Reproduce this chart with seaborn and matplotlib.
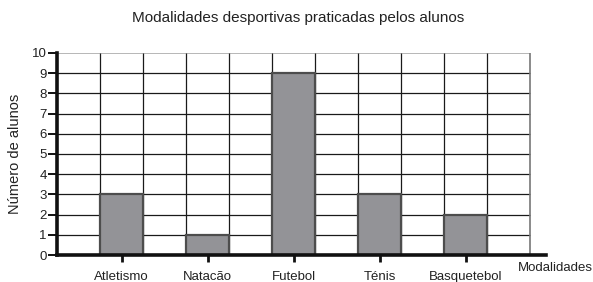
import pandas as pd
import seaborn as sns
import matplotlib.pyplot as plt

# Data
modalidades = ['Atletismo', 'Natacão', 'Futebol', 'Ténis', 'Basquetebol']
alunos = [3, 1, 9, 3, 2]

sns.set_theme(style="white")
plt.rcParams['font.family'] = ['Liberation Sans', 'DejaVu Sans']

df = pd.DataFrame({'Modalidade': modalidades, 'Alunos': alunos})

fig = plt.figure(figsize=(5.93, 2.82), dpi=100)
ax = fig.add_axes([57 / 593, 27 / 282, (546 - 57) / 593, (255 - 53) / 282])

# grid cells behind the bars
x_left, x_right = -0.75, 4.75
ax.hlines(range(1, 10), x_left, x_right, color='#1a1a1a', lw=0.9, zorder=0)
ax.hlines(10, x_left, x_right, color='#aaaaaa', lw=1.2, zorder=0)
edges = [x_left + 0.5 * k for k in range(1, 11)]
ax.vlines(edges, 0, 10, color='#1a1a1a', lw=0.9, zorder=0)
ax.vlines(x_right, 0, 10, color='#777777', lw=1.2, zorder=0)

sns.barplot(data=df, x='Modalidade', y='Alunos', order=modalidades, ax=ax,
            color='#939397', saturation=1, width=0.5,
            edgecolor='#4d4d4d', linewidth=1.6, zorder=2)

ax.set_xlim(x_left, x_left + (546 - 57) / 86)
ax.set_ylim(0, 10)
ax.set_yticks(range(0, 11))
ax.set_xlabel('')
ax.set_ylabel('Número de alunos', fontsize=10.5, color='#222222')
ax.yaxis.set_label_coords(-0.072, 0.5)

for side in ['top', 'right']:
    ax.spines[side].set_visible(False)
for side in ['left', 'bottom']:
    ax.spines[side].set_color('#111111')
    ax.spines[side].set_linewidth(2.6)
    ax.spines[side].set_zorder(3)

ax.tick_params(axis='y', direction='out', length=6.5, width=1.4, color='#111111',
               pad=1, labelsize=9.5, labelcolor='#222222', left=True)
ax.tick_params(axis='x', direction='out', length=5, width=2, color='#111111',
               pad=6.5, labelsize=9.5, labelcolor='#222222', bottom=True)

fig.text(298 / 593, 1 - 18 / 282, 'Modalidades desportivas praticadas pelos alunos',
         ha='center', va='center', fontsize=11, color='#222222')
fig.text(555 / 593, 1 - 268 / 282, 'Modalidades', ha='center', va='center',
         fontsize=9.5, color='#222222')

fig.savefig('out.png', dpi=100)
